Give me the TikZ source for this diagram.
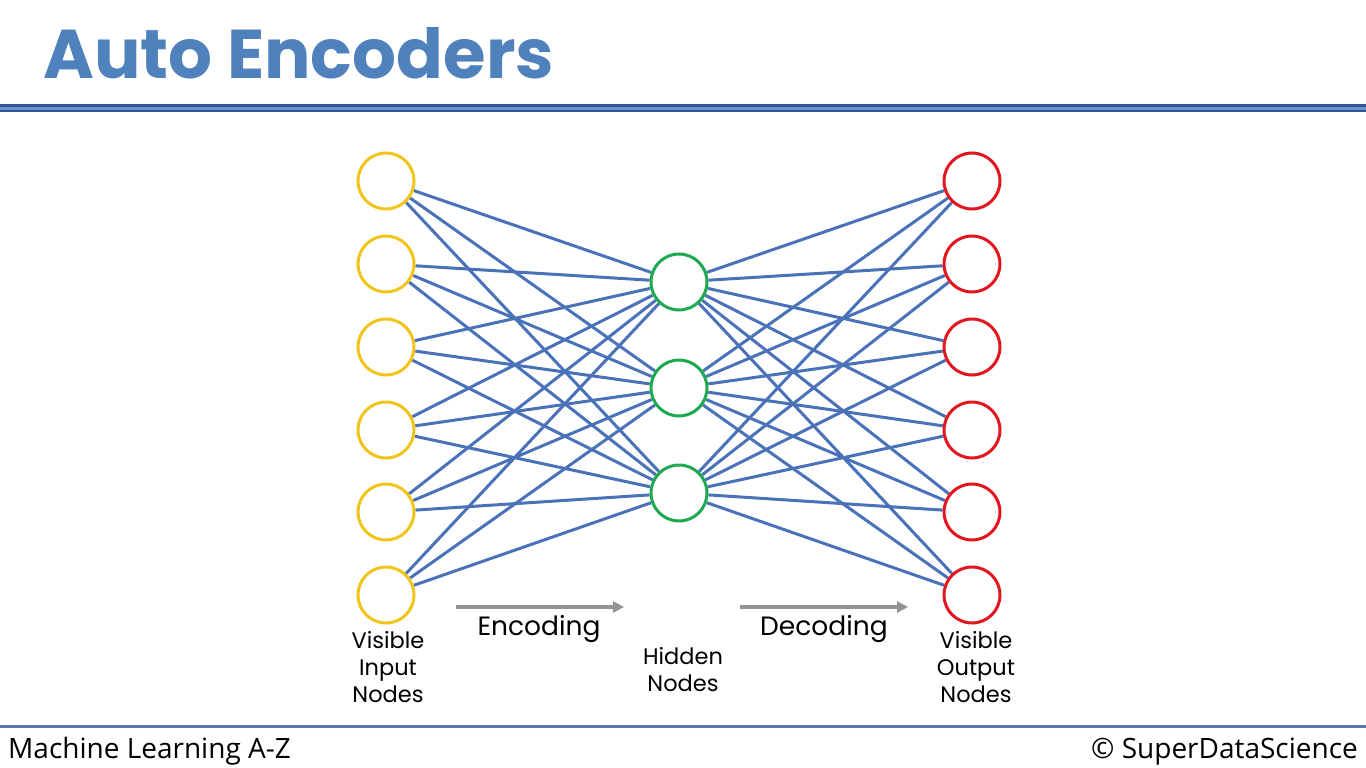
\documentclass[tikz,border=0pt]{standalone}
\usepackage{fontspec}
\setmainfont{Poppins}
\newfontfamily\footfont{Open Sans}
\usetikzlibrary{arrows,arrows.meta,backgrounds,positioning}

\begin{document}
\begin{tikzpicture}[x=1pt, y=-1pt]
			\definecolor{titleColour}{RGB}{79, 129, 189}
			\definecolor{ruleColour}{RGB}{47, 85, 151}
			\definecolor{edgeColour}{RGB}{74, 114, 184}
			\definecolor{inputColour}{RGB}{242, 196, 26}
			\definecolor{hiddenColour}{RGB}{30, 168, 80}
			\definecolor{outputColour}{RGB}{226, 22, 30}
			\tikzstyle{neuron}=[circle, draw, fill=white, line width=3pt, minimum size=56pt, inner sep=0pt]
			\tikzstyle{inlayer}=[neuron, color=inputColour, fill=white]
			\tikzstyle{hidlayer}=[neuron, color=hiddenColour, fill=white]
			\tikzstyle{outlayer}=[neuron, color=outputColour, fill=white]
			\tikzstyle{caption}=[align=center, font=\fontsize{22.5}{27}\selectfont, inner sep=0pt]
			\tikzstyle{flow}=[-{Triangle[length=11pt, width=11pt]}, line width=3.5pt, color=gray!85]

			\useasboundingbox (0,0) rectangle (1366,768);

			% header and footer
			\node [anchor=base west, inner sep=0pt, color=titleColour, font=\fontsize{69}{76}\selectfont\bfseries] (title) at (43,78) {Auto Encoders};
			\fill [ruleColour] (0,104) rectangle (1366,112);
			\fill [titleColour!85] (0,106.5) rectangle (1366,109.5);
			\fill [ruleColour!80] (0,725) rectangle (1366,728);
			\node [anchor=base west, inner sep=0pt, font=\footfont\fontsize{28}{32}\selectfont] (course) at (8,758) {Machine Learning A-Z};
			\node [anchor=base east, inner sep=0pt, font=\footfont\fontsize{28}{32}\selectfont] (brand) at (1358,758) {\textcopyright{} SuperDataScience};

			% layers
			\foreach \i/\y in {1/181, 2/264, 3/347, 4/430, 5/512, 6/595} {
				\node [inlayer] (I\i) at (386,\y) {};
				\node [outlayer] (O\i) at (972,\y) {};
			}
			\foreach \j/\y in {1/282, 2/388, 3/493}
				\node [hidlayer] (H\j) at (679,\y) {};

			\begin{scope}[on background layer]
			\foreach \i in {1,...,6}
				\foreach \j in {1,2,3} {
					\path [-, line width=3pt, color=edgeColour] (I\i) edge (H\j) (H\j) edge (O\i);
				}
			\end{scope}

			% captions
			\node [caption, below=7pt of I6, xshift=2pt] (inLabel) {Visible\\Input\\Nodes};
			\node [caption] (hidLabel) at (683,670) {Hidden\\Nodes};
			\node [caption, below=7pt of O6, xshift=4pt] (outLabel) {Visible\\Output\\Nodes};

			\coordinate (encA) at (456,607);
			\coordinate (encB) at (624,607);
			\coordinate (decA) at (740,607);
			\coordinate (decB) at (908,607);
			\draw [flow] (encA) -- (encB);
			\draw [flow] (decA) -- (decB);
			\node [font=\fontsize{26.5}{30}\selectfont, inner sep=0pt] (encLabel) at (539,629) {Encoding};
			\node [font=\fontsize{26.5}{30}\selectfont, inner sep=0pt] (decLabel) at (824,629) {Decoding};
		\end{tikzpicture}
\end{document}
